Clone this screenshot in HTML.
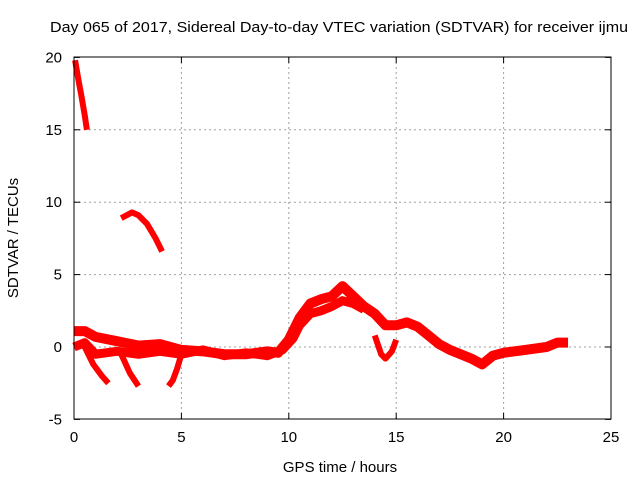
<!DOCTYPE html>
<html><head><meta charset="utf-8"><style>
body{margin:0;background:#fff}
svg text{font-family:"Liberation Sans",sans-serif;font-size:15px;fill:#000}
</style></head><body>
<svg id="c" width="640" height="480" xmlns="http://www.w3.org/2000/svg">
<rect width="640" height="480" fill="#fff"/>
<text x="339" y="32" text-anchor="middle" textLength="578" lengthAdjust="spacingAndGlyphs">Day 065 of 2017, Sidereal Day-to-day VTEC variation (SDTVAR) for receiver ijmu</text>
<g id="grid"></g><g id="data"></g>
<rect x="74" y="57" width="537" height="362" fill="none" stroke="#000" stroke-width="1"/>
<text x="340" y="472" text-anchor="middle">GPS time / hours</text>
<text transform="translate(18,238) rotate(-90)" text-anchor="middle">SDTVAR / TECUs</text>
</svg>
<script>
const xTicks=[0,5,10,15,20,25];
const yTicks=[-5,0,5,10,15,20];
const s1x=[0.05,0.2,0.35,0.5,0.6];
const s1y=[19.8,18.5,17.3,16,15];
const s2x=[2.2,2.7,3.0,3.4,3.8,4.1];
const s2y=[8.9,9.3,9.1,8.5,7.5,6.6];
const s3x=[0,0.5,1,2,3,4,5,6,7,8,9,9.5,10,10.5,11,11.5,12,12.5,13,13.5,14,14.5,15,15.5,16,16.5,17,17.5,18,18.5,19,19.5,20,21,22,22.5,23];
const s3y=[1.1,1.1,0.7,0.4,0.1,0.2,-0.2,-0.3,-0.5,-0.5,-0.3,-0.4,0.5,2.0,3.0,3.3,3.5,4.2,3.5,2.8,2.3,1.5,1.5,1.7,1.4,0.8,0.2,-0.2,-0.5,-0.8,-1.2,-0.6,-0.4,-0.2,0,0.3,0.3];
const s4x=[0,0.5,1,2,3,4,5,6,7,8,9,9.7,10.2,10.5,11,11.5,12,12.5,13,13.5];
const s4y=[0,0.3,-0.5,-0.3,-0.5,-0.3,-0.5,-0.2,-0.6,-0.4,-0.6,-0.2,0.6,1.5,2.3,2.5,2.8,3.2,3.0,2.6];
const h1x=[0.5,0.9,1.3,1.6];
const h1y=[0,-1.2,-2.0,-2.5];
const h2x=[2.2,2.6,3.0];
const h2y=[-0.5,-1.8,-2.7];
const h3x=[5.0,4.8,4.6,4.4];
const h3y=[-0.5,-1.5,-2.3,-2.7];
const h4x=[14,14.3,14.5,14.8,15];
const h4y=[0.8,-0.5,-0.8,-0.3,0.5];
const X=h=>74+h*537/25, Y=v=>347-v*362/25;
const NS="http://www.w3.org/2000/svg";
const svg=document.getElementById('c'),grid=document.getElementById('grid'),dg=document.getElementById('data');
function mk(t,a,p){const e=document.createElementNS(NS,t);for(const k in a)e.setAttribute(k,a[k]);p.appendChild(e);return e;}
xTicks.forEach(t=>{
 if(t>0&&t<25){const l=mk('line',{x1:X(t),x2:X(t),y1:57,y2:419,stroke:'#a0a0a0','stroke-dasharray':'2,3'},grid);
 
 }
 mk('line',{x1:X(t),x2:X(t),y1:419,y2:413,stroke:'#000'},grid);
 mk('line',{x1:X(t),x2:X(t),y1:57,y2:63,stroke:'#000'},grid);
 const tx=mk('text',{x:X(t),y:442,'text-anchor':'middle'},svg);tx.textContent=t;
 
 
});
yTicks.forEach(t=>{
 if(t>-5&&t<20){const l=mk('line',{x1:74,x2:611,y1:Y(t),y2:Y(t),stroke:'#a0a0a0','stroke-dasharray':'2,3'},grid);
 
 }
 mk('line',{x1:74,x2:80,y1:Y(t),y2:Y(t),stroke:'#000'},grid);
 mk('line',{x1:605,x2:611,y1:Y(t),y2:Y(t),stroke:'#000'},grid);
 const tx=mk('text',{x:62,y:Y(t)+5,'text-anchor':'end'},svg);tx.textContent=t;
 
 
});
[[s1x,s1y,'series-steep',6],[s2x,s2y,'series-arc',6],[s3x,s3y,'series-main',10],[s4x,s4y,'series-lower',9],[h1x,h1y,'hook-1',6],[h2x,h2y,'hook-2',6],[h3x,h3y,'hook-3',6],[h4x,h4y,'dip-14h',6]].forEach(([xs,ys,n,w])=>{
 const pts=xs.map((x,i)=>X(x)+','+Y(ys[i])).join(' ');
 const p=mk('polyline',{points:pts,fill:'none',stroke:'#f00','stroke-width':w,'stroke-linejoin':'round','stroke-linecap':'butt'},dg);
 
 
});
</script>
</body></html>
